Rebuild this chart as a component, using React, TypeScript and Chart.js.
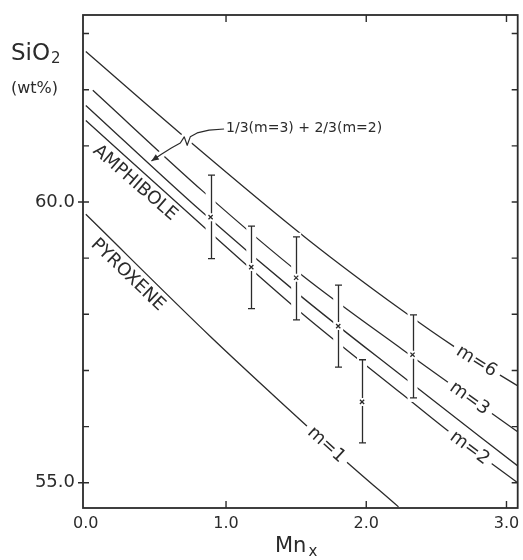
import React, { useEffect, useRef } from 'react';
import { Chart, registerables } from 'chart.js';

Chart.register(...registerables);

// ---- data ----
// model curves (Mn_x vs SiO2 wt%)
const m6X = [0, 0.67, 1.59, 2.25, 2.63, 3.09];
const m6Y = [62.68, 61.23, 59.32, 58.08, 57.42, 56.71];
const m3X = [0.05, 0.84, 1.54, 2.26, 3.09];
const m3Y = [61.99, 60.18, 58.7, 57.37, 55.89];
const mixX = [0, 0.83, 1.54, 2.26, 3.09];
const mixY = [61.72, 59.82, 58.31, 56.89, 55.28];
const m2X = [0, 0.84, 1.54, 2.26, 2.6, 3.08];
const m2Y = [61.45, 59.56, 58.02, 56.57, 55.89, 55.0];
const m1X = [0, 0.89, 1.45, 1.82, 2.23];
const m1Y = [59.78, 57.6, 56.3, 55.46, 54.57];

// measured points with error bars
const ptX = [0.89, 1.18, 1.5, 1.8, 1.97, 2.33];
const ptY = [59.73, 58.84, 58.65, 57.79, 56.44, 57.28];
const ptHi = [60.48, 59.57, 59.38, 58.52, 57.19, 57.99];
const ptLo = [58.99, 58.1, 57.9, 57.06, 55.71, 56.51];

// axes
const xTicks = [0, 1, 2, 3];
const yTicks = [55, 56, 57, 58, 59, 60, 61, 62, 63];
const yLabelled = [55, 60];

// curve labels
const curveLabels = ['m=6', 'm=3', 'm=2', 'm=1'];
const curveLabelX = [2.79, 2.74, 2.74, 1.72];

// field labels (text, x, y, angle in degrees)
const fieldText = ['AMPHIBOLE', 'PYROXENE'];
const fieldX = [0.35, 0.3];
const fieldY = [60.34, 58.7];
const fieldAngle = [41, 44];

// annotation with arrow
const noteText = '1/3(m=3) + 2/3(m=2)';
const noteX = 1.0;
const noteY = 61.32;
const arrowX = [0.986, 0.879, 0.794, 0.745, 0.723, 0.702, 0.674, 0.61, 0.539, 0.468];
const arrowY = [61.3, 61.28, 61.23, 61.16, 61.01, 61.16, 61.05, 60.96, 60.85, 60.73];

const INK = '#2b2b2b';
const FONT = "'DejaVu Sans', sans-serif";

const pairs = (xs: number[], ys: number[]) => xs.map((x, i) => ({ x, y: ys[i] }));

function interp(xs: number[], ys: number[], v: number) {
  for (let i = 0; i < xs.length - 1; i++) {
    if (v >= xs[i] && v <= xs[i + 1]) {
      const t = (v - xs[i]) / (xs[i + 1] - xs[i]);
      return ys[i] + t * (ys[i + 1] - ys[i]);
    }
  }
  return v < xs[0] ? ys[0] : ys[ys.length - 1];
}

export default function App() {
  const ref = useRef<HTMLCanvasElement>(null);

  useEffect(() => {
    const canvas = ref.current!;
    const curves = [
      [m6X, m6Y],
      [m3X, m3Y],
      [m2X, m2Y],
      [m1X, m1Y],
    ];

    const lineDs = (label: string, xs: number[], ys: number[]) => ({
      label,
      data: pairs(xs, ys),
      showLine: true,
      borderColor: INK,
      borderWidth: 1.3,
      pointRadius: 0,
      fill: false,
      cubicInterpolationMode: 'monotone' as const,
    });

    const overlay = {
      id: 'overlay',
      beforeDatasetDraw(chart: any, args: any) {
        if (args.index !== 0) return;
        const { ctx, chartArea } = chart;
        const xs = chart.scales.x;
        const ys = chart.scales.y;
        const X = (v: number) => xs.getPixelForValue(v);
        const Y = (v: number) => ys.getPixelForValue(v);
        ctx.save();
        ctx.beginPath();
        ctx.rect(chartArea.left, chartArea.top, chartArea.width, chartArea.height);
        ctx.clip();

        // white halos behind error bars
        ctx.fillStyle = '#fff';
        ptX.forEach((vx, i) => {
          const px = X(vx);
          const t = Y(ptHi[i]);
          const b = Y(ptLo[i]);
          ctx.fillRect(px - 5, t - 4, 10, b - t + 8);
        });

        // arrow halo
        ctx.strokeStyle = '#fff';
        ctx.lineWidth = 7;
        ctx.lineJoin = 'round';
        ctx.beginPath();
        arrowX.forEach((v, i) => {
          if (i === 0) ctx.moveTo(X(v), Y(arrowY[i]));
          else ctx.lineTo(X(v), Y(arrowY[i]));
        });
        ctx.stroke();

        // curve labels with white backing
        ctx.font = `18px ${FONT}`;
        ctx.textAlign = 'center';
        ctx.textBaseline = 'middle';
        curveLabels.forEach((txt, i) => {
          const [cx, cy] = curves[i];
          const lx = curveLabelX[i];
          const px = X(lx);
          const py = Y(interp(cx, cy, lx));
          const a = Math.atan2(
            Y(interp(cx, cy, lx + 0.1)) - Y(interp(cx, cy, lx - 0.1)),
            X(lx + 0.1) - X(lx - 0.1)
          );
          const w = ctx.measureText(txt).width;
          ctx.save();
          ctx.translate(px, py);
          ctx.rotate(a);
          ctx.fillStyle = '#fff';
          ctx.fillRect(-w / 2 - 5, -9, w + 10, 18);
          ctx.fillStyle = INK;
          ctx.fillText(txt, 0, 1);
          ctx.restore();
        });

        // error bars
        ctx.strokeStyle = INK;
        ctx.lineWidth = 1.3;
        ctx.lineCap = 'butt';
        ptX.forEach((vx, i) => {
          const px = Math.round(X(vx)) + 0.5;
          const t = Y(ptHi[i]);
          const b = Y(ptLo[i]);
          const c = Y(ptY[i]);
          ctx.beginPath();
          ctx.moveTo(px, t);
          ctx.lineTo(px, c - 4);
          ctx.moveTo(px, c + 4);
          ctx.lineTo(px, b);
          ctx.moveTo(px - 3.5, t);
          ctx.lineTo(px + 3.5, t);
          ctx.moveTo(px - 3.5, b);
          ctx.lineTo(px + 3.5, b);
          ctx.stroke();
        });

        // arrow
        ctx.lineWidth = 1.2;
        ctx.beginPath();
        arrowX.forEach((v, i) => {
          if (i === 0) ctx.moveTo(X(v), Y(arrowY[i]));
          else ctx.lineTo(X(v), Y(arrowY[i]));
        });
        ctx.stroke();
        const n = arrowX.length;
        const tx = X(arrowX[n - 1]);
        const ty = Y(arrowY[n - 1]);
        const ang = Math.atan2(ty - Y(arrowY[n - 2]), tx - X(arrowX[n - 2]));
        ctx.fillStyle = INK;
        ctx.beginPath();
        ctx.moveTo(tx, ty);
        ctx.lineTo(tx - 8 * Math.cos(ang - 0.4), ty - 8 * Math.sin(ang - 0.4));
        ctx.lineTo(tx - 8 * Math.cos(ang + 0.4), ty - 8 * Math.sin(ang + 0.4));
        ctx.closePath();
        ctx.fill();

        // note text
        ctx.font = `14px ${FONT}`;
        ctx.textAlign = 'left';
        ctx.textBaseline = 'middle';
        ctx.fillText(noteText, X(noteX), Y(noteY));

        // field labels
        ctx.font = `18px ${FONT}`;
        ctx.textAlign = 'center';
        fieldText.forEach((txt, i) => {
          ctx.save();
          ctx.translate(X(fieldX[i]), Y(fieldY[i]));
          ctx.rotate((fieldAngle[i] * Math.PI) / 180);
          ctx.fillText(txt, 0, 0);
          ctx.restore();
        });

        ctx.restore();
      },
      afterDraw(chart: any) {
        const { ctx, chartArea } = chart;
        const xs = chart.scales.x;
        const ys = chart.scales.y;
        const { left, right, top, bottom } = chartArea;
        ctx.save();
        ctx.strokeStyle = INK;
        ctx.lineWidth = 1.8;
        ctx.strokeRect(left, top, right - left, bottom - top);
        ctx.lineWidth = 1.4;
        ctx.beginPath();
        yTicks.forEach((v) => {
          const py = ys.getPixelForValue(v);
          const out = yLabelled.includes(v) ? 5 : 0;
          ctx.moveTo(left - out, py);
          ctx.lineTo(left + 6, py);
          ctx.moveTo(right, py);
          ctx.lineTo(right - 6, py);
        });
        xTicks.forEach((v) => {
          if (v === 0) return;
          const px = xs.getPixelForValue(v);
          ctx.moveTo(px, bottom);
          ctx.lineTo(px, bottom - 7);
          ctx.moveTo(px, top);
          ctx.lineTo(px, top + 7);
        });
        ctx.stroke();

        // axis titles
        ctx.fillStyle = INK;
        ctx.textAlign = 'left';
        ctx.textBaseline = 'alphabetic';
        ctx.font = `23px ${FONT}`;
        ctx.fillText('SiO', 11, 60);
        const w1 = ctx.measureText('SiO').width;
        ctx.font = `15px ${FONT}`;
        ctx.fillText('2', 11 + w1 + 1, 63);
        ctx.font = `16px ${FONT}`;
        ctx.textBaseline = 'middle';
        ctx.fillText('(wt%)', 11, 89);
        ctx.textBaseline = 'alphabetic';
        ctx.font = `21px ${FONT}`;
        ctx.fillText('Mn', 275, 552);
        const w2 = ctx.measureText('Mn').width;
        ctx.font = `15px ${FONT}`;
        ctx.fillText('x', 275 + w2 + 2, 556);
        ctx.restore();
      },
    };

    const chart = new Chart(canvas, {
      type: 'scatter',
      data: {
        datasets: [
          {
            label: 'measured',
            data: pairs(ptX, ptY),
            pointStyle: 'crossRot',
            pointRadius: 3,
            borderColor: INK,
            backgroundColor: INK,
            borderWidth: 1.3,
          } as any,
          lineDs('m=6', m6X, m6Y),
          lineDs('m=3', m3X, m3Y),
          lineDs('1/3(m=3)+2/3(m=2)', mixX, mixY),
          lineDs('m=2', m2X, m2Y),
          lineDs('m=1', m1X, m1Y),
        ],
      },
      options: {
        responsive: false,
        animation: false,
        devicePixelRatio: 1,
        layout: { padding: { left: 0, right: 3, top: 15, bottom: 0 } },
        plugins: { legend: { display: false }, tooltip: { enabled: false } },
        scales: {
          x: {
            type: 'linear',
            min: -0.02,
            max: 3.08,
            afterBuildTicks: (s: any) => {
              s.ticks = xTicks.map((v) => ({ value: v }));
            },
            afterFit: (s: any) => {
              s.height = 52;
              s.paddingLeft = 0;
              s.paddingRight = 0;
            },
            grid: { display: false, drawTicks: false },
            border: { display: false },
            ticks: {
              callback: (v: any) => Number(v).toFixed(1),
              font: { family: FONT, size: 16 },
              color: INK,
              padding: 6,
              maxRotation: 0,
              autoSkip: false,
            },
          },
          y: {
            type: 'linear',
            min: 54.55,
            max: 63.33,
            afterBuildTicks: (s: any) => {
              s.ticks = yTicks.map((v) => ({ value: v }));
            },
            afterFit: (s: any) => {
              s.width = 83;
              s.paddingTop = 0;
              s.paddingBottom = 0;
            },
            grid: { display: false, drawTicks: false },
            border: { display: false },
            ticks: {
              callback: (v: any) => (yLabelled.includes(Number(v)) ? Number(v).toFixed(1) : ''),
              font: { family: FONT, size: 18 },
              color: INK,
              padding: 8,
              autoSkip: false,
            },
          },
        },
      },
      plugins: [overlay],
    } as any);

    return () => chart.destroy();
  }, []);

  return (
    <div style={{ position: 'absolute', left: 0, top: 0, width: 523, height: 560, background: '#fff' }}>
      <canvas ref={ref} width={523} height={560} style={{ display: 'block', width: 523, height: 560 }} />
    </div>
  );
}
